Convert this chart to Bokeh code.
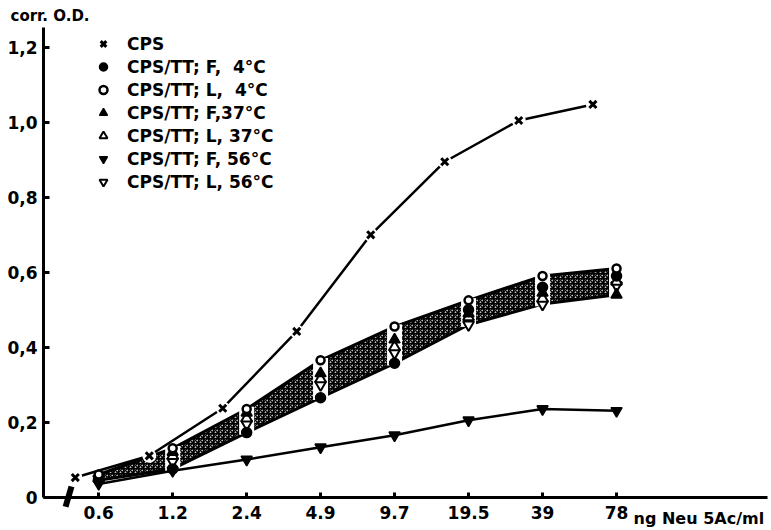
import numpy as np
from bokeh.plotting import figure
from bokeh.models import FixedTicker, Legend, LegendItem, Label, Range1d
from bokeh.embed import file_html
from bokeh.resources import INLINE

# x: ng Neu5Ac/ml (two-fold dilutions)
conc = [0.61, 1.22, 2.44, 4.875, 9.75, 19.5, 39, 78]
tick_labels = ["0.6", "1.2", "2.4", "4.9", "9.7", "19.5", "39", "78"]
cps_conc = [0.49, 0.98, 1.95, 3.9, 7.8, 15.6, 31.2, 62.5]

y_ticks = [0, 0.2, 0.4, 0.6, 0.8, 1.0, 1.2]
y_labels = ["0", "0,2", "0,4", "0,6", "0,8", "1,0", "1,2"]

# corr. O.D. values
cps = [0.052, 0.11, 0.237, 0.442, 0.70, 0.895, 1.005, 1.048]
f4 = [0.045, 0.075, 0.172, 0.265, 0.357, 0.50, 0.56, 0.59]
l4 = [0.06, 0.13, 0.235, 0.365, 0.455, 0.525, 0.59, 0.61]
f37 = [0.055, 0.12, 0.225, 0.33, 0.42, 0.49, 0.545, 0.54]
l37 = [0.05, 0.11, 0.21, 0.315, 0.40, 0.48, 0.53, 0.575]
l56 = [0.048, 0.095, 0.195, 0.30, 0.385, 0.46, 0.515, 0.565]
f56 = [0.035, 0.07, 0.10, 0.133, 0.165, 0.205, 0.235, 0.23]

FONT = "DejaVu Sans"
X_AX = (0.3638, 320.7)   # extent of the drawn x axis
Y_AX = (0, 1.2533)       # extent of the drawn y axis
BREAK_X = 0.46           # position of the axis-break mark

p = figure(width=771, height=530, x_axis_type="log",
           x_range=Range1d(0.2432, 333.0), y_range=Range1d(-0.0894, 1.3254),
           output_backend="svg", toolbar_location=None,
           min_border_left=0, min_border_right=0, min_border_top=0, min_border_bottom=0)
p.outline_line_color = None
p.grid.visible = False
p.background_fill_color = "white"

# axes
for ax in (p.xaxis[0], p.yaxis[0]):
    ax.axis_line_width = 3
    ax.major_tick_line_width = 3
    ax.major_tick_out = 0
    ax.minor_tick_line_color = None
    ax.major_label_text_font = FONT
    ax.major_label_text_font_style = "bold"
    ax.major_label_text_font_size = "17px"
    ax.major_label_text_color = "black"
p.xaxis.fixed_location = 0
p.xaxis.bounds = X_AX
p.xaxis.ticker = FixedTicker(ticks=conc)
p.xaxis.major_label_overrides = {c: t for c, t in zip(conc, tick_labels)}
p.xaxis.major_tick_in = 5
p.xaxis.major_label_standoff = 9
p.yaxis.fixed_location = X_AX[0]
p.yaxis.bounds = Y_AX
p.yaxis.ticker = FixedTicker(ticks=y_ticks)
p.yaxis.major_label_overrides = {v: t for v, t in zip(y_ticks, y_labels)}
p.yaxis.major_tick_in = 6
p.yaxis.major_label_standoff = 6

# axis break mark
p.segment(x0=[BREAK_X * 2 ** -0.04], y0=[-0.026], x1=[BREAK_X * 2 ** 0.04], y1=[0.028],
          line_color="black", line_width=6, line_cap="butt")

# band of CPS/TT preparations
band_series = np.array([f4, l4, f37, l37, l56])
lo = band_series.min(axis=0)
hi = band_series.max(axis=0)
p.varea(x=conc, y1=lo, y2=hi, fill_color="white", hatch_pattern="criss_cross",
        hatch_color="black", hatch_scale=5, hatch_weight=1.5)
p.line(conc, hi, line_color="black", line_width=3)
p.line(conc, lo, line_color="black", line_width=3)
p.rect(x=conc[1:], y=((lo + hi) / 2)[1:], width=15, width_units="screen",
       height=(hi - lo + 0.012)[1:], fill_color="white", line_color=None)

# CPS curve
p.line(cps_conc, cps, line_color="black", line_width=2.5)
p.scatter(cps_conc, cps, marker="circle", size=14, fill_color="white", line_color=None)
r_cps = p.scatter(cps_conc, cps, marker="x", size=10, line_color="black", line_width=3)

# F 56 curve
p.line(conc, f56, line_color="black", line_width=2.5)

r_l56 = p.scatter(conc, l56, marker="inverted_triangle", size=11, fill_color="white", line_color="black", line_width=2)
r_l37 = p.scatter(conc, l37, marker="triangle", size=11, fill_color="white", line_color="black", line_width=2)
r_f37 = p.scatter(conc, f37, marker="triangle", size=11, fill_color="black", line_color="black", line_width=1.5)
r_f4 = p.scatter(conc, f4, marker="circle", size=10, fill_color="black", line_color="black", line_width=1.5)
r_l4 = p.scatter(conc, l4, marker="circle", size=8, fill_color="white", line_color="black", line_width=2.5)
r_f56 = p.scatter(conc, f56, marker="inverted_triangle", size=11, fill_color="black", line_color="black", line_width=1.5)

legend = Legend(items=[
    LegendItem(label="CPS", renderers=[r_cps]),
    LegendItem(label="CPS/TT; F,  4°C", renderers=[r_f4]),
    LegendItem(label="CPS/TT; L,  4°C", renderers=[r_l4]),
    LegendItem(label="CPS/TT; F,37°C", renderers=[r_f37]),
    LegendItem(label="CPS/TT; L, 37°C", renderers=[r_l37]),
    LegendItem(label="CPS/TT; F, 56°C", renderers=[r_f56]),
    LegendItem(label="CPS/TT; L, 56°C", renderers=[r_l56]),
], location=(93, 337))
legend.padding = 0
legend.margin = 0
legend.spacing = 0
legend.label_height = 23
legend.glyph_height = 23
legend.glyph_width = 20
legend.label_standoff = 14
legend.label_text_font = FONT
legend.label_text_font_style = "bold"
legend.label_text_font_size = "17px"
legend.label_text_color = "black"
legend.background_fill_alpha = 0
legend.border_line_color = None
p.add_layout(legend, "center")

# texts
p.add_layout(Label(x=X_AX[0], y=Y_AX[1], x_offset=-33, y_offset=12, text="corr. O.D.",
                   text_font=FONT, text_font_style="bold", text_font_size="15px",
                   text_color="black", text_baseline="middle", text_align="left"))
p.add_layout(Label(x=78, y=0, x_offset=17, y_offset=-21, text="ng Neu 5Ac/ml",
                   text_font=FONT, text_font_style="bold", text_font_size="16px",
                   text_color="black", text_baseline="middle", text_align="left"))

open("out.html", "w").write(file_html(p, INLINE))
